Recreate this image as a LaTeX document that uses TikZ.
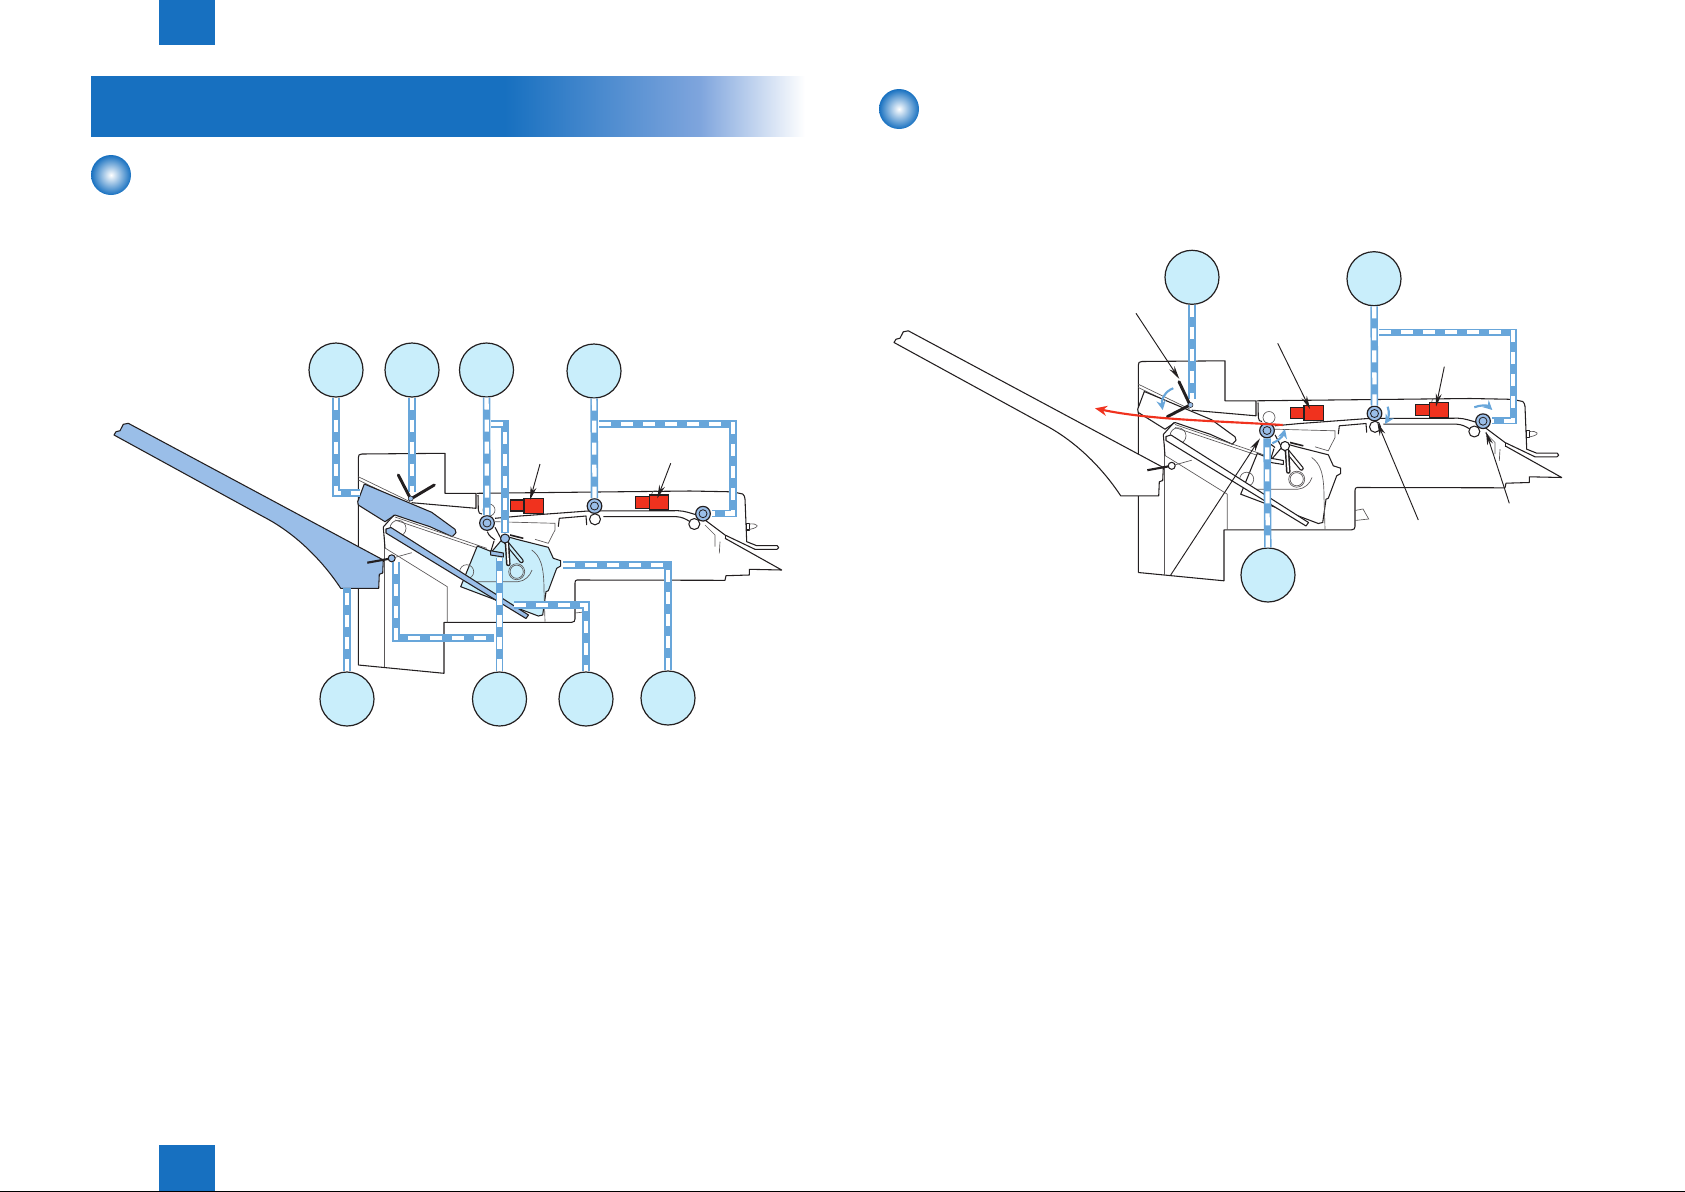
\documentclass[tikz,border=0pt]{standalone}
\usepackage{amsmath,amssymb}
\usepackage{xcolor}
\usetikzlibrary{arrows.meta}

\definecolor{canonblue}{HTML}{1770C0}
\definecolor{fademid}{HTML}{7FA5DD}
\definecolor{flowblue}{HTML}{68A6DA}
\definecolor{callblue}{HTML}{C9EEFB}
\definecolor{trayblue}{HTML}{9ABEE8}
\definecolor{sensorred}{HTML}{F0321E}
\definecolor{inkline}{HTML}{231F20}

\tikzset{
  callout/.style={circle,draw=inkline,line width=0.9pt,fill=callblue,inner sep=0pt,minimum size=40.5pt},
  flowline/.style={draw=flowblue,line width=5.6pt,line cap=butt,
    postaction={draw=white,line width=3.2pt,dash pattern=on 9pt off 7.5pt}},
  rollernode/.style={circle,draw=inkline,line width=0.9pt,fill=trayblue,inner sep=0pt,minimum size=11pt},
  outline/.style={draw=inkline,line width=0.8pt,line join=round},
  thinline/.style={draw=inkline!75,line width=0.5pt},
  sensorbox/.style={draw=inkline,line width=1pt,fill=sensorred},
  leader/.style={draw=inkline,line width=0.7pt,-{Stealth[length=10pt,width=4.5pt]}},
  turnarrow/.style={draw=flowblue,line width=1.6pt,-{Stealth[length=7pt,width=7pt]}},
  ball/.style={circle,inner sep=0pt,minimum size=30pt,shading=radial,inner color=white,outer color=canonblue},
}

% #1 tray colour, #2 feeder colour, #3 prefix of the node names
\newcommand{\feederunit}[3]{
%Shape: Cabinet
\draw[outline] (358.3,665) -- (358.3,458) .. controls (358.3,455) and (359,454) .. (362,454) -- (445,453.3) -- (445,493.3) -- (476,493.3) -- (476,508.3) -- (411.7,502.7);
\draw[outline] (358.3,665) -- (444,673.3) -- (444,622.3) -- (571.7,622.3) .. controls (574,622.3) and (575,621) .. (575,619) -- (575,583) .. controls (575,581) and (575.5,580) .. (577,580) -- (725,580.3) -- (726,575.7) -- (749.3,575) -- (749.3,569.3) -- (781.7,570) -- (725,538.3);
\draw[thinline] (384.3,536.7) -- (384.3,667.3);
\draw[thinline] (385,548) -- (447.3,586.7) -- (447.3,622.3);
\draw[thinline] (358.3,476.7) -- (410,501.7);
\draw[thinline] (358.3,480) -- (408,504);
%Shape: Upper path
\draw[outline] (476.7,493.3) -- (690,491) -- (726.7,491.7) .. controls (735,492) and (738,493) .. (742.7,494) .. controls (744,495) and (745,497) .. (745,499) -- (746.7,541.7) -- (756.7,545.7) -- (777.3,545.7) -- (778.7,547.7) -- (777,549.3) -- (755,549.3) -- (725,535) -- (705,520);
\draw[outline] (478,495) -- (478.3,510) .. controls (478.3,513) and (480,514) .. (482,514);
\draw[outline] (495,518.3) -- (520,516) -- (588,511) -- (678,510.7) .. controls (685,511) and (690,513) .. (697,515);
\draw[outline] (558.3,526.7) -- (559.3,518.3) -- (586,516) -- (586.7,525);
\draw[outline] (603.3,516.7) -- (676.7,516.7) .. controls (682,517) and (686,519) .. (690,521.7);
\draw[thinline] (495,521.7) -- (555,523.3) -- (555,530) -- (548.3,543.3) -- (535,539.3);
\draw[thinline] (705,525) -- (715,535) -- (715,546.7);
\draw[thinline] (720,541.7) -- (719.3,553.3);
\draw[outline] (725.7,535) -- (725.7,539);
\draw[thinline] (651.7,494.3) .. controls (652,491) and (655,490) .. (657,491);
%Shape: Tab
\draw[outline] (746.7,523.3) rectangle (749.3,530);
\draw[thinline] (749.3,524) .. controls (757,523) and (762,527) .. (749.3,529.5);
\draw[thinline] (575,603) -- (583,601.5) -- (588.7,611.5) -- (575,613);
%Shape: Long tray
\draw[outline,fill=#1] (114,435) -- (116,431.7) -- (120,430.7) -- (123.3,424.3) -- (128.3,423.3) -- (383.3,560) -- (382.7,573) -- (379.3,574.3) -- (378.7,588.3) -- (340.7,588.3) .. controls (322,560) and (295,533) .. (263.3,516.7) -- cycle;
%Shape: Upper tray
\draw[outline,fill=#1] (364.3,484) -- (431.7,512.3) -- (455,529.3) -- (456,532.7) -- (452.3,536.7) -- (430,526.7) -- (411.7,520.7) -- (395,515) -- (385,521.7) -- (358.3,505) -- (357.7,501.7) -- cycle;
%Shape: Stopper
\draw[line width=1.6pt,inkline] (367.3,562.7) -- (391.7,558.3);
\draw[thinline] (391.7,558.3) -- (411.7,552.7);
\draw[outline,fill=#1] (391.7,558.3) circle [radius=3.5];
%Shape: Guide round lower tray
\draw[outline] (385,548) -- (383.3,527) -- (394,515);
\draw[thinline] (395,517) -- (486.7,548.3);
\draw[thinline] (395,520) -- (486.7,551);
\draw[thinline] (398,528.3) circle [radius=8];
%Shape: Feeder body
\draw[outline,fill=#2] (477.3,546) -- (491.7,551.7) -- (505,536) -- (516.7,539.3) -- (548.3,547.3) -- (553.3,558.3) -- (560.7,560.7) -- (560.7,566) -- (556.7,568.3) -- (548.3,590.7) -- (546,591.7) -- (542.7,615) -- (538.3,616) -- (460.7,586.7) -- cycle;
\draw[thinline] (531.7,550) .. controls (540,556) and (544,565) .. (544,590) -- (545,621.7);
\draw[thinline] (465,581.7) -- (518,581.7) .. controls (525,581) and (530,576) .. (532,570);
\draw[thinline] (466.7,571.7) circle [radius=7];
\draw[thinline] (516.7,571.7) circle [radius=8];
\draw[thinline] (516.7,571.7) circle [radius=6.6];
%Shape: Lower tray
\draw[outline,fill=#1] (386,529) -- (391,527.5) -- (528.5,615) -- (526,618.5) -- (386,533) -- cycle;
%Shape: Pickup arm
\draw[outline] (487.3,531.7) .. controls (489,536) and (492,538) .. (495,540);
\draw[outline] (495,527.3) -- (501.7,540);
\draw[outline] (494,541) -- (490.7,551.7);
\draw[outline,fill=#1] (490.7,550.7) -- (503.3,553) -- (503.3,557) -- (490.7,555) -- cycle;
\draw[inkline,line width=3.4pt,line cap=round] (505,541) -- (521.5,561);
\draw[#2,line width=1.6pt,line cap=round] (505,541) -- (521.5,561);
\draw[inkline,line width=3.4pt,line cap=round] (507,543) -- (508.3,564);
\draw[white,line width=1.2pt,line cap=round] (507,543) -- (508.3,564);
\draw[outline,fill=#1] (505,538.5) circle [radius=4.5];
\draw[inkline,line width=1.2pt] (510,535) -- (523.3,538.3);
%Shape: Sensors
\draw[sensorbox] (510.7,500) rectangle (524,511);
\draw[sensorbox] (524,498.3) rectangle (543.3,513.3);
\draw[sensorbox] (635.7,496.7) rectangle (649.3,508.3);
\draw[sensorbox] (649.3,495) rectangle (668.3,510);
%Idler rollers
\draw[thinline,fill=white] (489,510) circle [radius=6];
\draw[outline] (595,519.3) circle [radius=5.5];
\draw[outline] (694.3,524) circle [radius=5.5];
%Driven rollers
\node[rollernode] (#3RollA) at (487,523) {};
\node[rollernode] (#3RollB) at (594.5,506) {};
\node[rollernode] (#3RollC) at (703,513.7) {};
\draw[inkline,line width=0.6pt] (487,523) circle [radius=4];
\draw[inkline,line width=0.6pt] (594.5,506) circle [radius=4];
\draw[inkline,line width=0.6pt] (703,513.7) circle [radius=4];
}

\begin{document}
\begin{tikzpicture}[x=0.75pt,y=0.75pt,yscale=-1,xscale=1]
\useasboundingbox (0,0) rectangle (1685,1192);

%Page marks
\fill[canonblue] (159,0) rectangle (215,45);
\fill[canonblue] (159,1145) rectangle (215,1191);
\draw[black,line width=0.8pt] (0,1191.5) -- (1685,1191.5);
\shade[left color=canonblue,right color=fademid] (505,76) rectangle (700,137);
\shade[left color=fademid,right color=white] (700,76) rectangle (805,137);
\fill[canonblue] (91,76) rectangle (505.5,137);
\fill[white] (500,137) rectangle (810,141);
\node[ball] (ballLeft) at (111,175) {};
\node[ball] (ballRight) at (899,109) {};

%Left unit
\feederunit{trayblue}{callblue}{lf}

\node[callout] (cfA) at (336,370) {};
\node[callout] (cfB) at (412,370) {};
\node[callout] (cfC) at (486.5,370) {};
\node[callout] (cfD) at (594,371) {};
\node[callout] (cfE) at (347,699) {};
\node[callout] (cfF) at (499.5,699) {};
\node[callout] (cfG) at (586,699) {};
\node[callout] (cfH) at (668,698) {};

\coordinate (lfTray) at (360,493);
\coordinate (lfGate) at (412,492);
\coordinate (lfArmTop) at (491,424);
\coordinate (lfArmBend) at (505,424);
\coordinate (lfArmEnd) at (505,533);
\coordinate (lfPathTop) at (599,424);
\coordinate (lfPathBend) at (733,424);
\coordinate (lfPathLow) at (733,513.5);
\coordinate (lfPathEnd) at (712,513.5);
\coordinate (lfTrayFoot) at (347,588);
\coordinate (lfStop) at (396,562);
\coordinate (lfStopBend) at (396,638);
\coordinate (lfStopEnd) at (494,638);
\coordinate (lfBody) at (499.5,558);
\coordinate (lfPlate) at (514,605);
\coordinate (lfPlateBend) at (586,605);
\coordinate (lfBack) at (563,565);
\coordinate (lfBackBend) at (668,565);

%Flow lines
\draw[flowline] (cfA) |- (lfTray);
\draw[flowline] (cfB) -- (lfGate);
\draw[flowline] (cfC) -- (lfRollA);
\draw[flowline] (lfArmTop) -- (lfArmBend) -- (lfArmEnd);
\draw[flowline] (cfD) -- (lfRollB);
\draw[flowline] (lfPathTop) -- (lfPathBend) -- (lfPathLow) -- (lfPathEnd);
\draw[flowline] (cfE) -- (lfTrayFoot);
\draw[flowline] (lfStop) -- (lfStopBend) -- (lfStopEnd);
\draw[flowline] (cfF) -- (lfBody);
\draw[flowline] (lfPlate) -- (lfPlateBend) -- (cfG);
\draw[flowline] (lfBack) -- (lfBackBend) -- (cfH);

%Gate lever
\draw[inkline,line width=2.2pt,line cap=round] (398.3,475) -- (410.7,499) -- (434.3,485);
\fill[trayblue,draw=inkline] (410.7,498.5) circle [radius=2.5];

%Sensor leaders
\coordinate (lfLeadA) at (540,464);
\coordinate (lfTipA) at (530,500);
\coordinate (lfLeadB) at (670.7,463.3);
\coordinate (lfTipB) at (657.3,498.3);
\draw[leader] (lfLeadA) -- (lfTipA);
\draw[leader] (lfLeadB) -- (lfTipB);

%Right unit
\begin{scope}[shift={(780,-92.5)}]
\feederunit{white}{white}{rt}
\end{scope}

\node[callout] (cfJ) at (1192,277.3) {};
\node[callout] (cfK) at (1374,278.7) {};
\node[callout] (cfL) at (1268,575) {};

\coordinate (rtGate) at (1192,399);
\coordinate (rtPathTop) at (1379,332.3);
\coordinate (rtPathBend) at (1513.3,332.3);
\coordinate (rtPathLow) at (1513.3,420.7);
\coordinate (rtPathEnd) at (1491.7,420.7);

\draw[flowline] (cfJ) -- (rtGate);
\draw[flowline] (cfK) -- (rtRollB);
\draw[flowline] (rtPathTop) -- (rtPathBend) -- (rtPathLow) -- (rtPathEnd);
\draw[flowline] (cfL) -- (rtRollA);

%Gate lever
\draw[inkline,line width=2.2pt,line cap=round] (1179,381.7) -- (1190,405) -- (1167.3,416.7);
\fill[trayblue,draw=inkline] (1190.5,405) circle [radius=2.5];

%Paper
\coordinate (rtPaperA) at (1282.7,425);
\coordinate (rtPaperB) at (1095,408.3);
\draw[sensorred,line width=1.6pt,-{Stealth[length=9pt,width=7.5pt]}] (rtPaperA) .. controls (1220,421) and (1150,420) .. (rtPaperB);

%Turn arrows
\coordinate (rtTurnA) at (1173.3,388.3);
\coordinate (rtTurnB) at (1162.7,410);
\coordinate (rtTurnC) at (1272.3,443.3);
\coordinate (rtTurnD) at (1285,429);
\coordinate (rtTurnE) at (1387.7,406.7);
\coordinate (rtTurnF) at (1385,424);
\coordinate (rtTurnG) at (1474.3,407.3);
\coordinate (rtTurnH) at (1492.3,410);
\draw[turnarrow] (rtTurnA) .. controls (1165,391) and (1161,400) .. (rtTurnB);
\draw[turnarrow] (rtTurnC) .. controls (1278,441) and (1283,436) .. (rtTurnD);
\draw[turnarrow] (rtTurnE) .. controls (1390,413) and (1388,419) .. (rtTurnF);
\draw[turnarrow] (rtTurnG) .. controls (1480,405) and (1487,405) .. (rtTurnH);

%Leaders
\coordinate (rtLeadA) at (1136,313.3);
\coordinate (rtTipA) at (1179.3,379);
\coordinate (rtLeadB) at (1277.7,343.3);
\coordinate (rtTipB) at (1310,409);
\coordinate (rtLeadC) at (1444.3,366.7);
\coordinate (rtTipC) at (1436,406.7);
\coordinate (rtLeadD) at (1418.3,520);
\coordinate (rtTipD) at (1377.3,422.3);
\coordinate (rtLeadE) at (1509.3,503.3);
\coordinate (rtTipE) at (1486,431.7);
\coordinate (rtLeadF) at (1170.7,575);
\coordinate (rtTipF) at (1260,438.3);
\draw[leader] (rtLeadA) -- (rtTipA);
\draw[leader] (rtLeadB) -- (rtTipB);
\draw[leader] (rtLeadC) -- (rtTipC);
\draw[leader] (rtLeadD) -- (rtTipD);
\draw[leader] (rtLeadE) -- (rtTipE);
\draw[leader] (rtLeadF) -- (rtTipF);

\end{tikzpicture}
\end{document}
